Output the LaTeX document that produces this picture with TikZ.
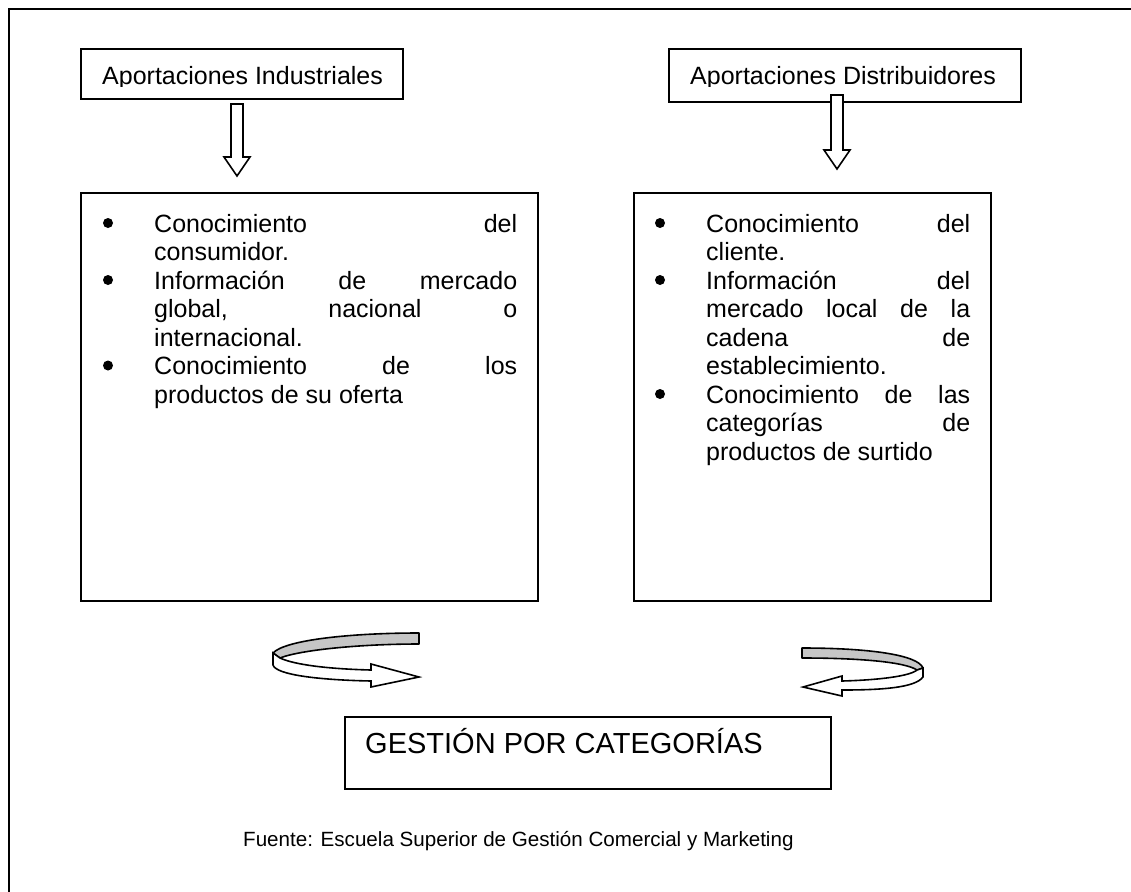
\documentclass[tikz,border=0pt]{standalone}
\usepackage{fontspec}
\setmainfont{Liberation Sans}
\usetikzlibrary{positioning}

\newcommand{\letralista}{\fontsize{25}{28.5}\selectfont}
\newcommand{\letratitulo}{\fontsize{25}{28.5}\selectfont}

\begin{document}
\begin{tikzpicture}[x=1pt,y=-1pt,
    caja/.style={draw,line width=2pt,fill=white,inner sep=0pt},
    bala/.style={circle,fill,inner sep=0pt,minimum size=10pt},
    renglon/.style={anchor=base west,inner sep=0pt,text width=#1,align=justify,font=\letralista},
    flecha/.style={draw,line width=1.6pt,fill=white,line join=miter},
    cinta/.style={draw,line width=1.6pt,fill=gray!45,line join=round}]
    \useasboundingbox (0,0) rectangle (1131,891);
    % marco
    \draw[line width=2pt] (1140,9) -- (9,9) -- (9,900);
    % titulos
    \node[caja,anchor=north west,minimum width=322pt,minimum height=50pt] (aind) at (80,48) {};
    \node[caja,anchor=north west,minimum width=352pt,minimum height=53pt] (adist) at (668,48) {};
    \begin{scope}
        \clip (80,48) rectangle (1131,86);
        \node[anchor=base west,inner sep=0pt,font=\letratitulo] (tind) at (102,84) {Aportaciones Industriales};
        \node[anchor=base west,inner sep=0pt,font=\letratitulo] (tdist) at (690,84) {Aportaciones Distribuidores};
    \end{scope}
    % flechas hacia abajo
    \draw[flecha] (231,104) -- (243,104) -- (243,157) -- (250,157) -- (237,176) -- (224,157) -- (231,157) -- cycle;
    \draw[flecha] (831,95) -- (843,95) -- (843,150) -- (850,150) -- (837,169) -- (824,150) -- (831,150) -- cycle;
    % listas
    \node[caja,anchor=north west,minimum width=457pt,minimum height=408pt] (lind) at (80,192) {};
    \node[caja,anchor=north west,minimum width=357pt,minimum height=408pt] (ldist) at (633,192) {};
    \node[bala] (b1) at (108,223) {};
    \node[renglon=363pt] (i1) at (154,232) {Conocimiento del\linebreak consumidor.};
    \node[bala] (b2) at (108,280) {};
    \node[renglon=363pt] (i2) at (154,289) {Información de mercado\linebreak global, nacional o\linebreak internacional.};
    \node[bala] (b3) at (108,365.5) {};
    \node[renglon=363pt] (i3) at (154,374.5) {Conocimiento de los\linebreak productos de su oferta};
    \node[bala] (b4) at (660,223) {};
    \node[renglon=264pt] (i4) at (706,232) {Conocimiento del\linebreak cliente.};
    \node[bala] (b5) at (660,280) {};
    \node[renglon=264pt] (i5) at (706,289) {Información del\linebreak mercado local de la\linebreak cadena de\linebreak establecimiento.};
    \node[bala] (b6) at (660,394) {};
    \node[renglon=264pt] (i6) at (706,403) {Conocimiento de las\linebreak categorías de\linebreak productos de surtido};
    % flechas curvas
    \draw[cinta] (419,633) .. controls (350,633) and (285,640) .. (273,653) -- (280,658) .. controls (300,650) and (360,644) .. (419,644) -- cycle;
    \draw[flecha] (273,653) -- (273,665) .. controls (276,675) and (320,680) .. (371,681) -- (371,687) -- (419,677) -- (371,664) -- (371,670) .. controls (330,669) and (295,665) .. (280,658) -- cycle;
    \draw[cinta] (802,648) .. controls (870,648) and (918,655) .. (923,668) -- (917,670) .. controls (905,662) and (860,658) .. (802,658) -- cycle;
    \draw[flecha] (923,668) -- (923,677) .. controls (915,688) and (880,690) .. (842,690) -- (842,696) -- (803,687) -- (842,676) -- (842,681) .. controls (880,680) and (910,676) .. (917,670) -- cycle;
    % gestion
    \node[caja,anchor=north west,minimum width=486pt,minimum height=72pt] (gest) at (344,716) {};
    \node[anchor=base west,inner sep=0pt,font=\fontsize{29}{33}\selectfont] (tgest) at (365,753) {GESTIÓN POR CATEGORÍAS};
    \node[anchor=base west,inner sep=0pt,font=\fontsize{20.6}{24}\selectfont] (fuente) at (243,846) {Fuente: Escuela Superior de Gestión Comercial y Marketing};
\end{tikzpicture}
\end{document}
